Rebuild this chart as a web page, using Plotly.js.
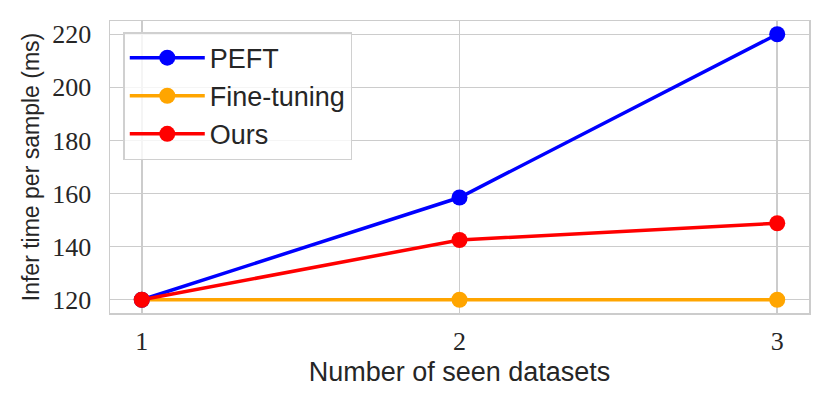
<!DOCTYPE html>
<html>
<head>
<meta charset="utf-8">
<script src="https://cdn.plot.ly/plotly-3.0.1.min.js"></script>
<style>html,body{margin:0;padding:0;background:#fff;}#chart{width:830px;height:410px;}</style>
</head>
<body>
<div id="chart"></div>
<script>
const xValues = [1, 2, 3];
const xTickLabels = ['1', '2', '3'];
const peft = [120, 158.5, 220];
const fineTuning = [120, 120, 120];
const ours = [120, 142.5, 148.8];
const seriesNames = ['PEFT', 'Fine-tuning', 'Ours'];
const seriesColors = ['#0000ff', '#ffa500', '#ff0000'];
const yTicks = [120, 140, 160, 180, 200, 220];

const seriesData = [peft, fineTuning, ours];
const traces = seriesData.map((ys, i) => ({
  x: xValues, y: ys, name: seriesNames[i], type: 'scatter', mode: 'lines+markers',
  line: {color: seriesColors[i], width: 3.5},
  marker: {color: seriesColors[i], size: 16},
  cliponaxis: false,
  legendgroup: 'g' + i
}));
// draw Ours above the others
const order = [1, 0, 2];
const data = order.map(i => traces[i]);

const gridColor = '#cccccc';
const layout = {
  width: 830, height: 410,
  margin: {l: 110, r: 21, t: 21, b: 97},
  paper_bgcolor: '#ffffff', plot_bgcolor: '#ffffff',
  showlegend: true,
  legend: {
    x: 0.019, y: 0.962, xanchor: 'left', yanchor: 'top',
    bgcolor: 'rgba(255,255,255,0.8)', bordercolor: '#d0d0d0', borderwidth: 1.5,
    font: {family: 'Liberation Sans, Arial, sans-serif', size: 27, color: '#262626'},
    traceorder: 'normal', itemwidth: 75, tracegroupgap: 2
  },
  xaxis: {
    range: [0.9, 3.1], tickvals: xValues, ticktext: xTickLabels,
    showgrid: true, gridcolor: gridColor, gridwidth: 1.5,
    showline: true, linecolor: gridColor, linewidth: 1.5, mirror: true,
    zeroline: false, ticks: '', ticklabelstandoff: 4,
    tickfont: {family: 'Liberation Serif, Times New Roman, serif', size: 26, color: '#262626'},
    title: {text: 'Number of seen datasets', font: {family: 'Liberation Sans, Arial, sans-serif', size: 27, color: '#262626'}, standoff: 7}
  },
  yaxis: {
    range: [115, 225], tickvals: yTicks,
    showgrid: true, gridcolor: gridColor, gridwidth: 1.5,
    showline: true, linecolor: gridColor, linewidth: 1.5, mirror: true,
    zeroline: false, ticks: '', ticklabelstandoff: 12,
    tickfont: {family: 'Liberation Serif, Times New Roman, serif', size: 26, color: '#262626'},
    title: {text: 'Infer time per sample (ms)', font: {family: 'Liberation Sans, Arial, sans-serif', size: 23, color: '#262626'}, standoff: 6}
  }
};
const legendRank = {'PEFT': 1, 'Fine-tuning': 2, 'Ours': 3};
data.forEach(t => { t.legendrank = legendRank[t.name]; });
Plotly.newPlot('chart', data, layout, {displayModeBar: false, staticPlot: true});
</script>
</body>
</html>
